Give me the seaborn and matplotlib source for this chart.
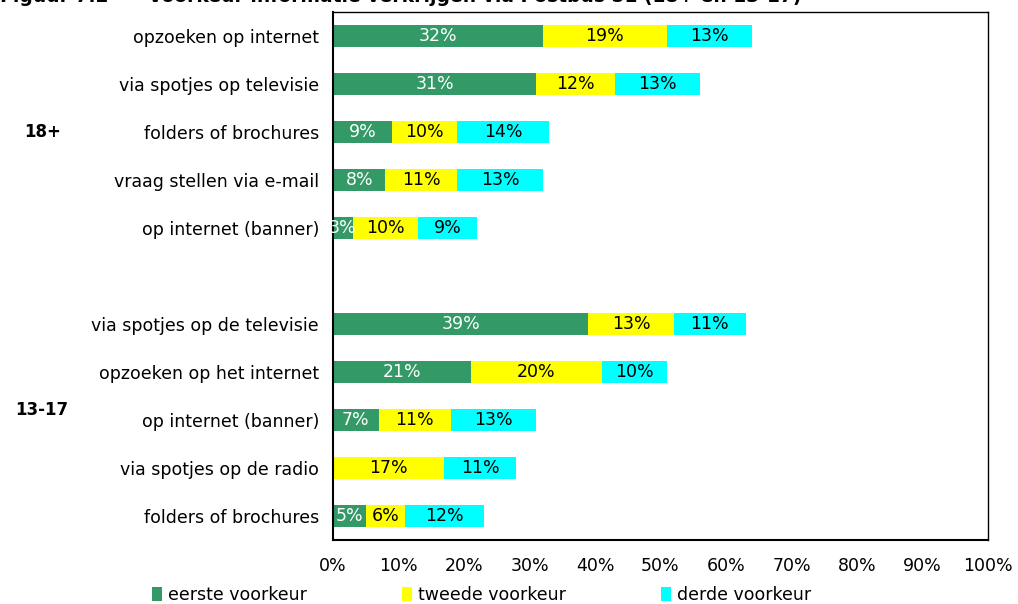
import numpy as np
import pandas as pd
import matplotlib.pyplot as plt
import seaborn as sns
from matplotlib.patches import Patch

sns.set_theme(style='white')
plt.rcParams['font.family'] = ['DejaVu Sans']
plt.rcParams['text.color'] = 'black'
plt.rcParams['xtick.color'] = 'black'
plt.rcParams['ytick.color'] = 'black'

# data (percentages), top to bottom
labels_18 = ['opzoeken op internet', 'via spotjes op televisie', 'folders of brochures',
             'vraag stellen via e-mail', 'op internet (banner)']
eerste_18 = [32, 31, 9, 8, 3]
tweede_18 = [19, 12, 10, 11, 10]
derde_18 = [13, 13, 14, 13, 9]

labels_13 = ['via spotjes op de televisie', 'opzoeken op het internet', 'op internet (banner)',
             'via spotjes op de radio', 'folders of brochures']
eerste_13 = [39, 21, 7, 0, 5]
tweede_13 = [13, 20, 11, 17, 6]
derde_13 = [11, 10, 13, 11, 12]

series = ['eerste voorkeur', 'tweede voorkeur', 'derde voorkeur']
colors = ['#339966', '#ffff00', '#00ffff']
text_colors = ['white', 'black', 'black']

labels = labels_18 + [''] + labels_13
df = pd.DataFrame({
    'label': labels,
    'eerste voorkeur': eerste_18 + [0] + eerste_13,
    'tweede voorkeur': tweede_18 + [0] + tweede_13,
    'derde voorkeur': derde_18 + [0] + derde_13,
})
ypos = np.arange(len(df))
fs = 12.5

fig = plt.figure(figsize=(10.18, 6.04), dpi=100)
ax = fig.add_axes([333 / 1018, 1 - 540 / 604, 655 / 1018, 528 / 604])

left = np.zeros(len(df))
for s, c, tc in zip(series, colors, text_colors):
    vals = df[s].values
    ax.barh(ypos, vals, left=left, height=0.44, color=c, edgecolor='none')
    for y, v, l in zip(ypos, vals, left):
        if v > 0:
            ax.text(l + v / 2, y, f'{v}%', ha='center', va='center', color=tc, fontsize=fs)
    left = left + vals

ax.set_xlim(0, 100)
ax.set_ylim(len(df) - 0.5, -0.5)
ax.set_xticks(np.arange(0, 101, 10))
ax.set_xticklabels([f'{v}%' for v in range(0, 101, 10)], fontsize=fs)
ax.set_yticks(ypos)
ax.set_yticklabels(df['label'], fontsize=fs)
ax.tick_params(axis='y', which='major', length=0, pad=10)
ax.set_yticks(np.arange(-0.5, len(df), 1), minor=True)
ax.tick_params(axis='y', which='minor', length=8, direction='inout', width=1, color='black')
ax.tick_params(axis='x', which='major', length=8, direction='inout', width=1, color='black', pad=8)
for sp in ax.spines.values():
    sp.set_color('black')
    sp.set_linewidth(1)
ax.spines['left'].set_linewidth(1.5)
ax.spines['bottom'].set_linewidth(1.5)

fig.text(43 / 1018, 1 - 132 / 604, '18+', fontsize=12, fontweight='bold', ha='center', va='center')
fig.text(42 / 1018, 1 - 410 / 604, '13-17', fontsize=12, fontweight='bold', ha='center', va='center')

# title is partly cut off at the top edge, as in the original
fig.text(108 / 1018, 1 + 3 / 604, 'Figuur 7.2', fontsize=13.5, fontweight='bold', ha='right', va='center')
fig.text(148 / 1018, 1 + 3 / 604, 'Voorkeur informatie verkrijgen via Postbus 51 (18+ en 13-17)',
         fontsize=13.5, fontweight='bold', ha='left', va='center')

handles = [Patch(facecolor=c, edgecolor='none', label=s) for s, c in zip(series, colors)]
fig.legend(handles=handles, loc='center left', bbox_to_anchor=(152 / 1018, 1 - 595 / 604), ncol=3,
           frameon=False, fontsize=fs, handlelength=0.6, handleheight=0.8, handletextpad=0.3,
           columnspacing=5.5, borderaxespad=0, borderpad=0)

fig.savefig('out.png', dpi=100)
